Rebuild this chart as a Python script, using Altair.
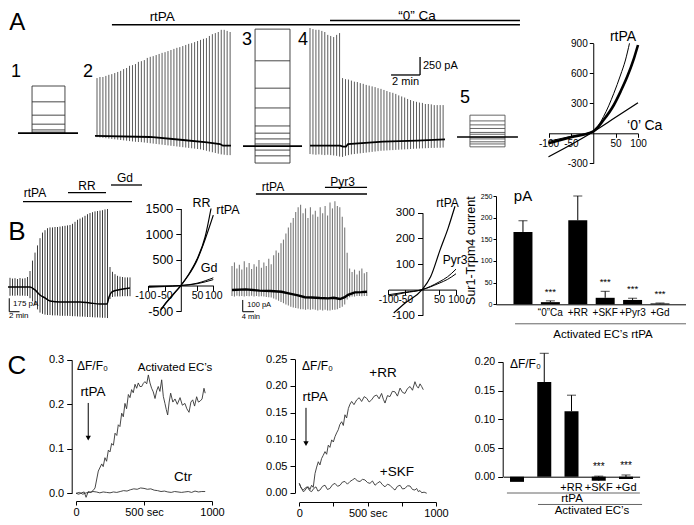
import altair as alt
import pandas as pd

FONT = "Liberation Sans"
W, H, M = 678, 509, 8

# ===================== DATA =====================
# ---- Row A: Sur1-Trpm4 current traces (pA vs min) ----
A1_LEVELS = [750, 530, 345, 220, 140, 110]
A1_BASE = 95
A2_T0, A2_DT = 6.0, 0.204
A2_TOP = [860, 875, 875, 890, 905, 915, 930, 945, 960, 985,
          1000, 1030, 1040, 1055, 1085, 1095, 1110, 1140, 1155, 1165,
          1180, 1195, 1210, 1220, 1235, 1250, 1265, 1280, 1290, 1305,
          1320, 1335, 1345, 1360, 1375, 1390, 1405, 1415, 1445, 1470,
          1485, 1500, 1530, 1530, 1515, 1500]
A2_BOT = [40, 35, 30, 25, 20, 15, 10, 5, 0, -5,
          -10, -15, -20, -25, -28, -30, -35, -40, -45, -50,
          -55, -60, -65, -70, -75, -80, -85, -90, -95, -100,
          -105, -110, -115, -120, -125, -130, -140, -150, -160, -170,
          -180, -190, -200, -205, -210, -210]
A2_BASE_T = [5.86, 9.66, 11.93, 13.59, 14.48, 14.69, 15.24]
A2_BASE_I = [56, 42, 0, -32, -56, -79, -79]
A3_LEVELS = [1540, 1100, 720, 445, 195, 95, 15, -55, -140, -220, -320]
A3_BASE = -85
A4_T0, A4_DT = 20.69, 0.204
A4_TOP = [1555, 1540, 1530, 1530, 1515, 1500, 1460, 1445, 1430, 1460, 1485,
          860, 845, 840, 825, 810, 805, 790, 780, 765, 755,
          745, 735, 720, 710, 695, 680, 665, 655, 640, 620,
          605, 590, 570, 555, 540, 530, 520, 515, 500, 500,
          495, 485, 485, 485, 485]
A4_BOT = [-195, -200, -205, -200, -205, -210, -205, -210, -215, -220, -230,
          -235, -220, -210, -200, -195, -190, -185, -180, -175, -170,
          -165, -160, -155, -150, -148, -145, -142, -140, -137, -135,
          -132, -130, -128, -125, -122, -120, -118, -116, -114, -112,
          -110, -110, -108, -108, -105]
A4_BASE_T = [20.69, 22.76, 22.97, 23.17, 23.31, 25.72, 28.07, 30.0]
A4_BASE_I = [-79, -79, -93, -93, -56, -23, -9, 9]
A5_LEVELS = [345, 265, 210, 160, 105, 80, 40, 15, -25, -55, -95]
A5_BASE = 42

# ---- Row A: I-V (mV, pA) ----
AIV_THICK_V = [-100, -50, 0, 23, 46, 61, 76, 91, 100]
AIV_THICK_I = [-100, -40, 20, 133, 283, 417, 567, 750, 883]
AIV_THIN_V = [-100, -50, 0, 23, 46, 61, 72, 81]
AIV_THIN_I = [-80, -30, 20, 167, 400, 583, 733, 900]
AIV_CA0_V = [-100, -50, 0, 50, 100]
AIV_CA0_I = [-235, -115, 15, 160, 305]

# ---- Row B: trace 1 (rtPA, RR, Gd) ----
B1_DT = 0.5
B1_TOP = [112, 100, 115, 105, 110, 100, 112, 105, 110, 125,
          200, 330, 430, 520, 610, 680, 710, 735, 745, 745,
          750, 750, 755, 760, 765, 770, 775, 790, 815, 840,
          855, 870, 890, 910, 925, 935, 945, 950, 955, 960,
          970, 975, 250, 190, 160, 140, 130, 125, 120, 120, 120]
B1_BOT = [-110, -105, -110, -108, -110, -105, -110, -108, -110, -112,
          -140, -180, -230, -280, -320, -335, -345, -350, -350, -355,
          -355, -355, -360, -360, -360, -360, -362, -365, -365, -368,
          -370, -370, -372, -375, -375, -378, -380, -380, -382, -385,
          -385, -388, -150, -125, -120, -118, -118, -115, -115, -115, -115]
B1_BASE_T = [0, 5, 6, 7, 8, 9, 11, 15, 17, 19, 20.4, 20.8, 21.4, 22.6, 25]
B1_BASE_I = [0, 0, -37, -100, -137, -175, -187, -187, -200, -212, -212, -125, -62, -37, -12]

# ---- Row B: I-V 1 ----
B1IV_RR_V = [-62, -45, -25, 0, 23, 49, 75, 93]
B1IV_RR_I = [-480, -340, -190, 0, 205, 500, 950, 1500]
B1IV_RT_V = [-60, -45, -25, 0, 23, 49, 75, 100]
B1IV_RT_I = [-460, -330, -180, 0, 195, 480, 900, 1370]
B1IV_GD_V = [-100, -50, 0, 50, 100]
B1IV_GD1_I = [-35, -20, 0, 45, 150]
B1IV_GD2_I = [-20, -12, 0, 35, 115]

# ---- Row B: trace 2 (rtPA, Pyr3) ----
B2_DT = 0.891
B2_TOP = [200, 230, 180, 210, 170, 240, 190, 225, 175, 215,
          195, 250, 185, 230, 200, 260, 215, 290, 330, 310,
          390, 420, 470, 520, 560, 600, 650, 690, 710, 640,
          680, 600, 690, 630, 660, 610, 690, 640, 700, 620,
          730, 680, 740, 700, 690, 610, 520, 310, 180, 150,
          170, 130, 160, 180, 140, 150]
B2_BOT = [-50, -55, -48, -52, -50, -55, -50, -52, -48, -55,
          -50, -55, -52, -55, -58, -60, -62, -70, -80, -90,
          -100, -110, -120, -130, -140, -145, -150, -155, -160, -160,
          -165, -160, -165, -160, -165, -170, -165, -170, -165, -170,
          -170, -165, -165, -160, -150, -140, -120, -80, -60, -55,
          -55, -50, -50, -52, -50, -50]
B2_BASE_T = [0, 5, 10, 14, 18, 21, 24, 26.5, 29, 32, 35, 37, 39.3, 41, 42.2, 44.7, 47, 49.1]
B2_BASE_I = [0, 5, -5, -8, -15, -30, -45, -60, -62, -67, -70, -65, -75, -60, -40, -20, -18, -15]

# ---- Row B: I-V 2 ----
B2IV_RT_V = [-84, -50, 0, 25, 53, 77, 97]
B2IV_RT_I = [-91, -52, 0, 50, 155, 241, 325]
B2IV_PY_V = [-100, -50, 0, 50, 75, 100]
B2IV_PY1_I = [-25, -12, 0, 30, 50, 80]
B2IV_PY2_I = [-20, -10, 0, 25, 40, 62]

# ---- Row B: summary bars (pA) ----
BB_CATS = ["ctrl", "\u201c0\u201dCa", "+RR", "+SKF", "+Pyr3", "+Gd"]
BB_MEAN = [167, 5, 194, 15, 10, 2]
BB_ERR = [26, 3, 56, 15, 4, 1]
BB_STAR = ["", "***", "", "***", "***", "***"]

# ---- Row C: Ca imaging time courses (s, dF/F0) ----
C1_ACT_T = [0, 20, 40, 60, 74, 90, 110, 125, 140, 164, 189, 200, 213, 225, 238, 250, 262, 275,
            287, 300, 311, 323, 336, 348, 360, 372, 385, 397, 409, 421, 434, 446, 458, 470,
            483, 495, 507, 520, 532, 544, 556, 568, 581, 593, 605, 617, 630, 642, 654, 664,
            674, 685, 696, 712, 728, 745, 765, 782, 801, 815, 831, 845, 858, 872, 887, 900,
            912, 927, 941, 950]
C1_ACT_V = [0.000, -0.002, 0.001, 0.003, -0.009, 0.004, 0.002, 0.006, 0.012, 0.050, 0.066,
            0.060, 0.080, 0.072, 0.097, 0.093, 0.112, 0.108, 0.135, 0.130, 0.154, 0.150,
            0.180, 0.172, 0.202, 0.190, 0.222, 0.215, 0.233, 0.226, 0.245, 0.236, 0.248,
            0.240, 0.240, 0.247, 0.251, 0.246, 0.266, 0.248, 0.236, 0.228, 0.213, 0.230,
            0.240, 0.229, 0.255, 0.218, 0.202, 0.188, 0.176, 0.205, 0.225, 0.205, 0.212,
            0.200, 0.215, 0.198, 0.202, 0.190, 0.182, 0.205, 0.210, 0.196, 0.217, 0.205,
            0.207, 0.212, 0.236, 0.225]
C1_CTR_T = [0, 25, 50, 75, 100, 125, 150, 175, 200, 225, 250, 275, 300, 325, 350, 375, 400,
            425, 450, 475, 500, 525, 550, 575, 600, 625, 650, 675, 700, 725, 750, 775, 800,
            825, 850, 875, 900, 925, 950]
C1_CTR_V = [0.000, 0.002, -0.002, 0.001, 0.002, 0.004, 0.003, 0.001, 0.003, 0.002, 0.001,
            0.003, 0.002, 0.004, 0.006, 0.005, 0.008, 0.010, 0.009, 0.012, 0.011, 0.009,
            0.010, 0.007, 0.006, 0.004, 0.005, 0.003, 0.002, 0.004, 0.003, 0.002, 0.003,
            0.004, 0.002, 0.005, 0.003, 0.004, 0.004]
C2_RR_T = [0, 8, 17, 29, 41, 53, 66, 78, 90, 102, 115, 127, 139, 151, 163, 175, 188, 200,
           212, 224, 237, 249, 261, 273, 285, 297, 310, 322, 334, 346, 359, 371, 383, 400,
           420, 438, 456, 475, 493, 511, 529, 548, 566, 584, 602, 615, 627, 645, 663, 681,
           700, 718, 737, 755, 773, 791, 810, 828, 846, 858, 871, 883, 895, 907]
C2_RR_V = [0.0175, 0.012, 0.008, 0.002, 0.004, 0.009, 0.011, 0.006, 0.014, 0.010, 0.036,
           0.048, 0.058, 0.052, 0.064, 0.070, 0.077, 0.072, 0.089, 0.085, 0.099, 0.095,
           0.105, 0.112, 0.118, 0.128, 0.133, 0.126, 0.146, 0.140, 0.158, 0.166, 0.171,
           0.165, 0.174, 0.178, 0.171, 0.180, 0.177, 0.170, 0.174, 0.181, 0.183, 0.176,
           0.186, 0.175, 0.168, 0.182, 0.180, 0.190, 0.189, 0.181, 0.196, 0.188, 0.186,
           0.195, 0.199, 0.192, 0.208, 0.200, 0.196, 0.204, 0.199, 0.193]
C2_SKF_T = [0, 15, 29, 44, 59, 75, 90, 106, 122, 136, 151, 170, 188, 206, 224, 243, 261, 280,
            298, 316, 334, 352, 371, 389, 407, 425, 444, 462, 480, 499, 517, 535, 554, 572,
            590, 608, 627, 645, 663, 681, 700, 718, 737, 755, 773, 791, 810, 828, 846, 858,
            871, 883, 895, 913, 932]
C2_SKF_V = [0.0175, 0.008, 0.005, 0.009, 0.011, 0.004, 0.002, 0.008, 0.011, 0.003, 0.005,
            0.012, 0.014, 0.006, 0.008, 0.015, 0.0175, 0.012, 0.014, 0.020, 0.021, 0.016,
            0.021, 0.024, 0.027, 0.022, 0.021, 0.025, 0.024, 0.019, 0.0175, 0.022, 0.014,
            0.018, 0.021, 0.015, 0.011, 0.016, 0.014, 0.009, 0.005, 0.012, 0.014, 0.007,
            0.008, 0.013, 0.0125, 0.006, 0.005, 0.008, 0.002, 0.004, 0.000, 0.001, -0.001]

# ---- Row C: summary bars (dF/F0) ----
CB_CATS = ["ctrl", "rtPA", "+RR", "+SKF", "+Gd"]
CB_MEAN = [-0.009, 0.165, 0.114, -0.007, -0.004]
CB_ERR = [0.0, 0.05, 0.028, 0.008, 0.007]
CB_STAR = ["", "", "", "***", "***"]

# ===================== LAYOUT HELPERS =====================
def pan(xd, xi, yd, yi):
    return dict(xd=xd, xr=[xi[0] - M, xi[1] - M], yd=yd, yr=[yi[0] - M, yi[1] - M])

PA = pan([0, 36], [10, 532], [-500, 1750], [176, 14])
PAIV = pan([-100, 100], [548.5, 638], [-300, 900], [163.3, 43.3])
PB1 = pan([0, 30], [5, 155], [-500, 1500], [327, 167])
PB1IV = pan([-100, 100], [148.3, 213.3], [-500, 1500], [311.2, 208.5])
PB2 = pan([0, 50], [232, 369.5], [-300, 1000], [326, 170])
PB2IV = pan([-100, 100], [388.3, 456], [-100, 300], [315.3, 212.7])
PBB = pan([0, 6], [509.3, 673.7], [0, 250], [304.3, 196])
PBBAND = pan([0, 1], [496, 690], [0, 250], [304.3, 196])
PC1 = pan([0, 1000], [76, 212], [0, 0.3], [493.3, 359.8])
PC2 = pan([0, 1000], [299.3, 436], [0, 0.25], [492.7, 359.3])
PCB = pan([0, 5], [503.4, 639.6], [0, 0.2], [476.7, 361.9])

HYPHEN = "(datum.value < 0 ? '-' : '') + abs(datum.value)"
SEC = "datum.value == 500 ? '500 sec' : ((datum.value == 250 || datum.value == 750) ? '' : '' + datum.value)"
SPREAD = {"condition": {"test": "datum.value == -100", "value": -3}, "value": 0}


def lax(x_img, **kw):
    kw.setdefault("title", None)
    return alt.Axis(orient="left", offset=-(x_img - M), grid=False, **kw)


def bax(y_img, **kw):
    kw.setdefault("title", None)
    return alt.Axis(orient="bottom", offset=(y_img - M) - H, grid=False, **kw)


def X(f, p, axis=None):
    return alt.X(f, type="quantitative", axis=axis,
                 scale=alt.Scale(domain=p["xd"], range=p["xr"], zero=False, nice=False))


def Y(f, p, axis=None):
    return alt.Y(f, type="quantitative", axis=axis,
                 scale=alt.Scale(domain=p["yd"], range=p["yr"], zero=False, nice=False))


def txt(p, rows, size, align="center", baseline="middle", color="black"):
    df = pd.DataFrame(rows, columns=["x", "y", "label"])
    return alt.Chart(df).mark_text(font=FONT, fontSize=size, align=align, baseline=baseline,
                                   color=color).encode(x=X("x", p), y=Y("y", p), text="label:N")


def seg(p, rows, width=1.0, color="black"):
    df = pd.DataFrame(rows, columns=["x", "x2", "y", "y2"])
    return alt.Chart(df).mark_rule(strokeWidth=width, color=color).encode(
        x=X("x", p), x2="x2:Q", y=Y("y", p), y2="y2:Q")


def spikes(p, t0, dt, top, bot, color, width):
    n = min(len(top), len(bot))
    df = pd.DataFrame({"t": [t0 + dt * i for i in range(n)], "top": top[:n], "bot": bot[:n]})
    return alt.Chart(df).mark_rule(color=color, strokeWidth=width).encode(
        x=X("t", p), y=Y("top", p), y2="bot:Q")


def curve(p, t, v, color="black", width=1.0, interp="linear", xaxis=None, yaxis=None):
    df = pd.DataFrame({"t": t, "v": v})
    return alt.Chart(df).mark_line(color=color, strokeWidth=width, interpolate=interp).encode(
        x=X("t", p, xaxis), y=Y("v", p, yaxis))


def family(p, t0, t1, levels, base, b0, b1, color="#333"):
    lo, hi = min(levels + [base]), max(levels)
    rows = [(t0, t1, lv, lv) for lv in levels] + [(t0, t0, lo, hi), (t1, t1, lo, hi)]
    return [seg(p, rows, 0.9, color), seg(p, [(b0, b1, base, base)], 1.6, "black")]


L = []

# ===================== ROW A =====================
L += family(PA, 1.52, 3.79, A1_LEVELS, A1_BASE, 0.55, 4.69)
L.append(spikes(PA, A2_T0, A2_DT, A2_TOP, A2_BOT, "#4a4a4a", 0.9))
L.append(curve(PA, A2_BASE_T, A2_BASE_I, width=1.8))
L += family(PA, 16.9, 19.31, A3_LEVELS, A3_BASE, 16.07, 20.14)
L.append(spikes(PA, A4_T0, A4_DT, A4_TOP, A4_BOT, "#4a4a4a", 0.9))
L.append(curve(PA, A4_BASE_T, A4_BASE_I, width=1.8))
L += family(PA, 31.72, 34.14, A5_LEVELS, A5_BASE, 30.83, 35.03, "#555")
L.append(seg(PA, [(7.03, 35.17, 1601, 1601), (22.07, 35.17, 1660, 1660),
                  (28.28, 28.28, 903, 1153), (26.28, 28.28, 903, 903)], 1.3))
L.append(txt(PA, [(10.5, 1715, "rtPA"), (28.07, 1722, "\u201c0\u201d Ca")], 13.5))
L.append(txt(PA, [(0.41, 945, "1"), (5.38, 945, "2"), (16.34, 1389, "3"),
                  (20.21, 1389, "4"), (31.38, 583, "5")], 18))
L.append(txt(PA, [(0.5, 1625, "A")], 24))
L.append(txt(PA, [(28.48, 1028, "250 pA")], 11, align="left"))
L.append(txt(PA, [(27.28, 800, "2 min")], 11))

# A  I-V
L.append(curve(PAIV, AIV_THICK_V, AIV_THICK_I, width=2.6, interp="monotone",
               xaxis=bax(133.3, values=[-100, -50, 50, 100], labelFontSize=10, tickSize=4,
                         labelPadding=1, labelExpr=HYPHEN),
               yaxis=lax(593.25, values=[-300, 300, 600, 900], labelFontSize=10, tickSize=4,
                         labelPadding=2, labelExpr=HYPHEN)))
L.append(curve(PAIV, AIV_THIN_V, AIV_THIN_I, width=1.0, interp="monotone"))
L.append(curve(PAIV, AIV_CA0_V, AIV_CA0_I, width=1.3, interp="monotone"))
L.append(txt(PAIV, [(66.5, 963, "rtPA"), (115, 73, "\u20180\u2019 Ca")], 14))

# ===================== ROW B =====================
L.append(spikes(PB1, 0, B1_DT, B1_TOP, B1_BOT, "#3c3c3c", 1.0))
L.append(curve(PB1, B1_BASE_T, B1_BASE_I, width=1.5, interp="monotone"))
L.append(seg(PB1, [(3.6, 25.4, 1066, 1066), (12.6, 20.2, 1179, 1179), (21.2, 27.4, 1275, 1275)], 1.3))
L.append(seg(PB1, [(0.85, 0.85, -141, -309), (0.85, 2.9, -309, -309)], 1.0))
L.append(txt(PB1, [(6.0, 1175, "rtPA"), (16.4, 1262, "RR"), (24.0, 1362, "Gd")], 12))
L.append(txt(PB1, [(2.4, 687, "B")], 26))
L.append(txt(PB1, [(1.6, -212, "175 pA"), (0.8, -362, "2 min")], 8, align="left"))

L.append(curve(PB1IV, B1IV_RR_V, B1IV_RR_I, width=1.2, interp="monotone",
               xaxis=bax(285.5, values=[-100, -50, 50, 100], labelFontSize=10.5, tickSize=5,
                         labelPadding=0, labelExpr=HYPHEN, labelOffset=SPREAD),
               yaxis=lax(180.8, values=[-500, 500, 1000, 1500], labelFontSize=12.5, tickSize=5,
                         labelPadding=3, labelExpr=HYPHEN)))
L.append(curve(PB1IV, B1IV_RT_V, B1IV_RT_I, width=1.2, interp="monotone"))
L.append(curve(PB1IV, B1IV_GD_V, B1IV_GD1_I, width=1.0, interp="monotone"))
L.append(curve(PB1IV, B1IV_GD_V, B1IV_GD2_I, width=1.0, interp="monotone"))
L.append(txt(PB1IV, [(64, 1607, "RR"), (145, 1470, "rtPA"), (87, 341, "Gd")], 12.5))

L.append(spikes(PB2, 0, B2_DT, B2_TOP, B2_BOT, "#7a7a7a", 1.1))
L.append(curve(PB2, B2_BASE_T, B2_BASE_I, width=2.4))
L.append(seg(PB2, [(8.7, 49.1, 800, 800), (33.8, 49.1, 855, 855)], 1.3))
L.append(seg(PB2, [(3.9, 3.9, -83, -181), (3.9, 8.0, -181, -181)], 1.0))
L.append(txt(PB2, [(14.9, 858, "rtPA"), (40.2, 902, "Pyr3")], 12))
L.append(txt(PB2, [(5.56, -125, "100 pA"), (3.5, -222, "4 min")], 7.5, align="left"))

L.append(curve(PB2IV, B2IV_RT_V, B2IV_RT_I, width=1.2, interp="monotone",
               xaxis=bax(289.6, values=[-100, -50, 50, 100], labelFontSize=10, tickSize=5,
                         labelPadding=0, labelExpr=HYPHEN),
               yaxis=lax(422.5, values=[-100, 100, 200, 300], labelFontSize=11.5, tickSize=5,
                         labelPadding=3, labelExpr=HYPHEN)))
L.append(curve(PB2IV, B2IV_PY_V, B2IV_PY1_I, width=1.0, interp="monotone"))
L.append(curve(PB2IV, B2IV_PY_V, B2IV_PY2_I, width=1.0, interp="monotone"))
L.append(txt(PB2IV, [(75, 337, "rtPA"), (97, 116, "Pyr3")], 12))

# B summary bars
bdf = pd.DataFrame({"cat": BB_CATS, "mean": BB_MEAN, "err": BB_ERR, "star": BB_STAR})
bdf["top"] = bdf["mean"] + bdf["err"]


def bx(axis=None):
    return alt.X("cat", type="nominal", sort=BB_CATS, axis=axis,
                 scale=alt.Scale(type="band", domain=BB_CATS, range=PBBAND["xr"],
                                 paddingInner=0.307, paddingOuter=0.693, align=0.46))


def by(f, axis=None):
    return Y(f, PBBAND, axis)


L.append(alt.Chart(bdf).mark_bar(color="black").encode(
    x=bx(bax(304.3, ticks=False, labelPadding=3, labelFontSize=10, labelAngle=0,
             labelExpr="datum.value == 'ctrl' ? '' : datum.label")),
    y=by("mean", lax(496, values=[0, 50, 100, 150, 200, 250], labelFontSize=7, tickSize=3,
                     labelPadding=1, title="Sur1-Trpm4 current", titleFontSize=12.5,
                     titleFontWeight="normal", titlePadding=3))))
L.append(alt.Chart(bdf).mark_rule(color="black", strokeWidth=1).encode(
    x=bx(), y=by("mean"), y2="top:Q"))
L.append(alt.Chart(bdf).mark_tick(color="black", thickness=1, size=9).encode(
    x=bx(), y=by("top")))
L.append(alt.Chart(bdf).mark_text(font=FONT, fontSize=9.5, baseline="middle", dy=-9).encode(
    x=bx(), y=by("top"), text="star:N"))
L.append(seg(PBB, [(0.21, 6.6, -45, -45)], 0.9, "#555"))
L.append(txt(PBB, [(3.42, -71, "Activated EC\u2019s  rtPA")], 11.5))
L.append(txt(PBB, [(0.5, 250, "pA")], 15))

# ===================== ROW C =====================
L.append(curve(PC1, C1_ACT_T, C1_ACT_V, color="#333", width=0.9,
               xaxis=bax(501, values=[0, 500, 1000], labelFontSize=11, tickSize=4,
                         labelPadding=1, labelExpr=SEC),
               yaxis=lax(71.7, values=[0, 0.1, 0.2, 0.3], format=".1f", labelFontSize=11,
                         tickSize=5, labelPadding=3)))
L.append(curve(PC1, C1_CTR_T, C1_CTR_V, color="#333", width=0.9))
L.append(seg(PC1, [(90, 90, 0.203, 0.128)], 1.0))
L.append(alt.Chart(pd.DataFrame({"x": [90], "y": [0.124]})).mark_point(
    shape="triangle-down", filled=True, size=28, color="black", opacity=1).encode(
    x=X("x", PC1), y=Y("y", PC1)))
L.append(txt(PC1, [(7, 0.286, "\u0394F/F\u2080")], 12, align="left"))
L.append(txt(PC1, [(728, 0.282, "Activated EC\u2019s")], 11.5))
L.append(txt(PC1, [(125, 0.228, "rtPA"), (787, 0.037, "Ctr")], 13.5))
L.append(txt(PC1, [(-434, 0.286, "C")], 26))

L.append(curve(PC2, C2_RR_T, C2_RR_V, color="#333", width=0.9,
               xaxis=bax(502, values=[0, 250, 500, 750, 1000], labelFontSize=11, tickSize=4,
                         labelPadding=1, labelExpr=SEC),
               yaxis=lax(295, values=[0, 0.05, 0.1, 0.15, 0.2, 0.25], format=".2f",
                         labelFontSize=11, tickSize=5, labelPadding=3)))
L.append(curve(PC2, C2_SKF_T, C2_SKF_V, color="#333", width=0.9))
L.append(seg(PC2, [(49, 49, 0.159, 0.095)], 1.0))
L.append(alt.Chart(pd.DataFrame({"x": [49], "y": [0.092]})).mark_point(
    shape="triangle-down", filled=True, size=28, color="black", opacity=1).encode(
    x=X("x", PC2), y=Y("y", PC2)))
L.append(txt(PC2, [(20, 0.2374, "\u0394F/F\u2080")], 12, align="left"))
L.append(txt(PC2, [(115, 0.179, "rtPA"), (612, 0.224, "+RR"), (714, 0.039, "+SKF")], 13.5))

# C summary bars
cdf = pd.DataFrame({"cat": CB_CATS, "mean": CB_MEAN, "err": CB_ERR, "star": CB_STAR})
cdf["top"] = cdf["mean"] + cdf["err"]


def cx(axis=None):
    return alt.X("cat", type="nominal", sort=CB_CATS, axis=axis,
                 scale=alt.Scale(type="band", domain=CB_CATS, range=PCB["xr"],
                                 paddingInner=0.486, paddingOuter=0.243))


L.append(alt.Chart(cdf).mark_bar(color="black").encode(
    x=cx(bax(476.7, ticks=False, labelPadding=5, labelFontSize=11, labelAngle=0,
             labelExpr="(datum.value == 'ctrl' || datum.value == 'rtPA') ? '' : datum.label")),
    y=Y("mean", PCB, lax(502.7, values=[0, 0.05, 0.1, 0.15, 0.2], format=".2f",
                          labelFontSize=10.5, tickSize=5, labelPadding=3))))
cerr = alt.Chart(cdf).transform_filter("datum.err > 0")
L.append(cerr.mark_rule(color="black", strokeWidth=1).encode(x=cx(), y=Y("mean", PCB), y2="top:Q"))
L.append(cerr.mark_tick(color="black", thickness=1, size=9).encode(x=cx(), y=Y("top", PCB)))
L.append(alt.Chart(cdf).mark_text(font=FONT, fontSize=10, baseline="middle", dy=-9).encode(
    x=cx(), y=Y("top", PCB), text="star:N"))
L.append(seg(PCB, [(0.13, 5.01, -0.0284, -0.0284), (1.27, 5.09, -0.0484, -0.0484)], 0.9, "#555"))
L.append(txt(PCB, [(2.52, -0.0392, "rtPA")], 11.5))
L.append(txt(PCB, [(3.25, -0.0595, "Activated EC\u2019s")], 11.5))
L.append(txt(PCB, [(0.24, 0.196, "\u0394F/F\u2080")], 12, align="left"))

chart = alt.layer(*L).resolve_scale(x="independent", y="independent").properties(
    width=W, height=H, padding=0, background="white",
    autosize=alt.AutoSizeParams(type="none"),
).configure_view(stroke=None).configure_axis(
    labelFont=FONT, titleFont=FONT, labelColor="black", titleColor="black",
    domainColor="black", tickColor="black", domainWidth=1, tickWidth=1,
    labelOverlap=False, labelFlush=False, grid=False,
)

chart.save("out.html", embed_options={"renderer": "svg", "actions": False})
